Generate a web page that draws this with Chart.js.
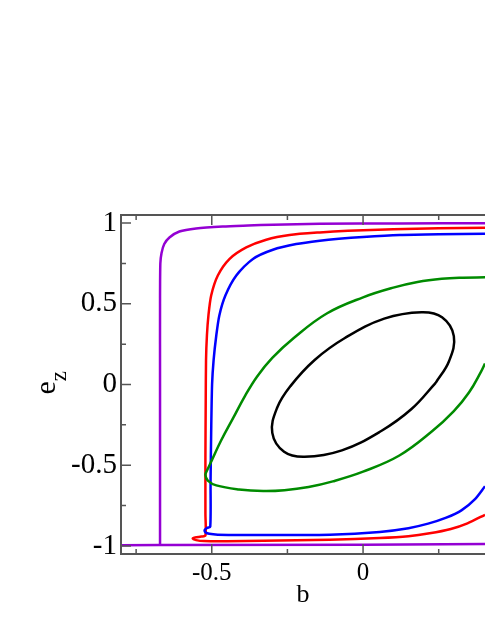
<!DOCTYPE html>
<html>
<head>
<meta charset="utf-8">
<script src="https://cdn.jsdelivr.net/npm/chart.js@4/dist/chart.umd.min.js"></script>
<style>
  html, body { margin: 0; padding: 0; background: #fff; overflow: hidden; }
  canvas { display: block; }
</style>
</head>
<body>
<canvas id="orbits" width="485" height="627"></canvas>
<script>
const SERIF = 'Liberation Serif';

// b (x) and e_z (y) of each orbit
const blackB = [0.240, 0.160, 0.060, -0.070, -0.193, -0.261, -0.300, -0.284, -0.240, -0.160, -0.060, 0.070, 0.193, 0.261, 0.300, 0.284, 0.240];
const blackE = [0.010, -0.152, -0.288, -0.408, -0.448, -0.417, -0.300, -0.144, -0.010, 0.152, 0.288, 0.408, 0.448, 0.417, 0.300, 0.144, 0.010];

const greenB = [0.403, 0.330, 0.260, 0.180, 0.100, 0.000, -0.120, -0.228, -0.300, -0.350, -0.390, -0.430, -0.470, -0.500, -0.515, -0.521, -0.513, -0.485, -0.410, -0.330, -0.260, -0.180, -0.100, 0.000, 0.120, 0.228, 0.300, 0.350, 0.390, 0.403];
const greenE = [0.664, 0.662, 0.655, 0.635, 0.600, 0.540, 0.440, 0.290, 0.165, 0.050, -0.070, -0.210, -0.350, -0.470, -0.530, -0.560, -0.595, -0.625, -0.650, -0.660, -0.655, -0.635, -0.600, -0.540, -0.440, -0.290, -0.165, -0.050, 0.080, 0.130];

const blueB = [0.403, 0.250, 0.121, 0.000, -0.080, -0.143, -0.221, -0.298, -0.364, -0.419, -0.455, -0.475, -0.485, -0.494, -0.499, -0.502, -0.504, -0.505, -0.515, -0.523, -0.521, -0.508, -0.480, -0.330, -0.110, 0.055, 0.150, 0.215, 0.275, 0.325, 0.370, 0.403];
const blueE = [0.934, 0.931, 0.926, 0.914, 0.903, 0.891, 0.870, 0.835, 0.778, 0.675, 0.551, 0.428, 0.305, 0.150, 0.000, -0.300, -0.600, -0.880, -0.888, -0.900, -0.915, -0.925, -0.930, -0.933, -0.930, -0.913, -0.890, -0.862, -0.825, -0.780, -0.710, -0.630];

const redB = [0.403, 0.250, 0.100, -0.050, -0.143, -0.243, -0.320, -0.386, -0.441, -0.480, -0.502, -0.511, -0.516, -0.519, -0.520, -0.521, -0.521, -0.521, -0.535, -0.555, -0.563, -0.552, -0.525, -0.450, -0.330, -0.110, 0.055, 0.150, 0.220, 0.290, 0.345, 0.403];
const redE = [0.971, 0.968, 0.962, 0.952, 0.942, 0.926, 0.897, 0.849, 0.778, 0.675, 0.551, 0.428, 0.305, 0.150, -0.100, -0.450, -0.800, -0.935, -0.942, -0.947, -0.955, -0.964, -0.970, -0.971, -0.968, -0.961, -0.951, -0.940, -0.922, -0.895, -0.860, -0.807];

const violetB = [-0.671, -0.671, -0.671, -0.671, -0.670, -0.666, -0.657, -0.640, -0.607, -0.552, -0.464, -0.380, -0.298, -0.143, 0.121, 0.403];
const violetE = [-0.994, -0.500, 0.000, 0.500, 0.750, 0.815, 0.870, 0.911, 0.948, 0.967, 0.979, 0.985, 0.990, 0.996, 0.998, 0.999];
const violetFloorB = [-0.800, -0.671, 0.000, 0.403];
const violetFloorE = [-0.996, -0.995, -0.992, -0.988];

// axis ticks; empty label = minor tick
const xTicks = [-0.75, -0.5, -0.25, 0, 0.25];
const xLabels = ['', '-0.5', '', '0', ''];
const yTicks = [-1, -0.75, -0.5, -0.25, 0, 0.25, 0.5, 0.75, 1];
const yLabels = ['-1', '', '-0.5', '', '0', '', '0.5', '', '1'];

function points(bs, es) {
    return bs.map((b, i) => ({ x: b, y: es[i] }));
}

function orbit(label, bs, es, color, tension) {
    return {
        label: label,
        data: points(bs, es),
        borderColor: color,
        borderWidth: 2.5,
        showLine: true,
        pointRadius: 0,
        tension: tension,
        fill: false
    };
}

// xmgrace-style frame: inward ticks, rotated e_z title
const frameTicks = {
    id: 'frameTicks',
    afterDraw(chart) {
        const { ctx, chartArea: a, scales: { x, y } } = chart;
        ctx.save();
        ctx.strokeStyle = '#555';
        ctx.lineWidth = 2;
        ctx.beginPath();
        ctx.moveTo(chart.width, a.top);
        ctx.lineTo(a.left, a.top);
        ctx.lineTo(a.left, a.bottom);
        ctx.lineTo(chart.width, a.bottom);
        ctx.stroke();

        ctx.lineWidth = 1.5;
        ctx.beginPath();
        x.ticks.forEach((t, i) => {
            const px = x.getPixelForValue(t.value);
            const len = xLabels[i] ? 10 : 5;
            ctx.moveTo(px, a.bottom);
            ctx.lineTo(px, a.bottom - len);
            ctx.moveTo(px, a.top);
            ctx.lineTo(px, a.top + len);
        });
        y.ticks.forEach((t, i) => {
            const py = y.getPixelForValue(t.value);
            const len = yLabels[i] ? 10 : 5;
            ctx.moveTo(a.left, py);
            ctx.lineTo(a.left + len, py);
        });
        ctx.stroke();

        ctx.fillStyle = '#000';
        ctx.translate(a.left - 66, (a.top + a.bottom) / 2 + 10);
        ctx.rotate(-Math.PI / 2);
        ctx.textBaseline = 'alphabetic';
        ctx.font = `30px "${SERIF}"`;
        ctx.fillText('e', 0, 0);
        const w = ctx.measureText('e').width;
        ctx.font = `23px "${SERIF}"`;
        ctx.fillText('z', w, 11);
        ctx.restore();
    }
};

new Chart(document.getElementById('orbits'), {
    type: 'scatter',
    data: {
        datasets: [
            orbit('black', blackB, blackE, '#000000', 0.4),
            orbit('green', greenB, greenE, '#008b00', 0.4),
            orbit('blue', blueB, blueE, '#0000ff', 0.25),
            orbit('red', redB, redE, '#ff0000', 0.25),
            orbit('violet', violetB, violetE, '#9400d3', 0.25),
            orbit('violet floor', violetFloorB, violetFloorE, '#9400d3', 0)
        ]
    },
    options: {
        responsive: false,
        devicePixelRatio: 1,
        animation: false,
        layout: { padding: { top: 215, right: 0, bottom: 0, left: 0 } },
        plugins: { legend: { display: false }, tooltip: { enabled: false } },
        scales: {
            x: {
                type: 'linear',
                min: -0.8,
                max: 0.403,
                afterBuildTicks: s => { s.ticks = xTicks.map(v => ({ value: v })); },
                afterFit: s => { s.height = 73; },
                grid: { display: false, drawTicks: false },
                border: { display: false },
                ticks: {
                    autoSkip: false,
                    maxRotation: 0,
                    padding: 4,
                    color: '#000',
                    font: { family: SERIF, size: 25 },
                    callback: (v, i) => xLabels[i]
                },
                title: {
                    display: true,
                    text: 'b',
                    color: '#000',
                    font: { family: SERIF, size: 26 },
                    padding: { top: 0, bottom: 16 }
                }
            },
            y: {
                type: 'linear',
                min: -1.05,
                max: 1.05,
                afterBuildTicks: s => { s.ticks = yTicks.map(v => ({ value: v })); },
                afterFit: s => { s.width = 121; },
                grid: { display: false, drawTicks: false },
                border: { display: false },
                ticks: {
                    autoSkip: false,
                    padding: 4,
                    color: '#000',
                    font: { family: SERIF, size: 29 },
                    callback: (v, i) => yLabels[i]
                }
            }
        }
    },
    plugins: [frameTicks]
});
</script>
</body>
</html>
